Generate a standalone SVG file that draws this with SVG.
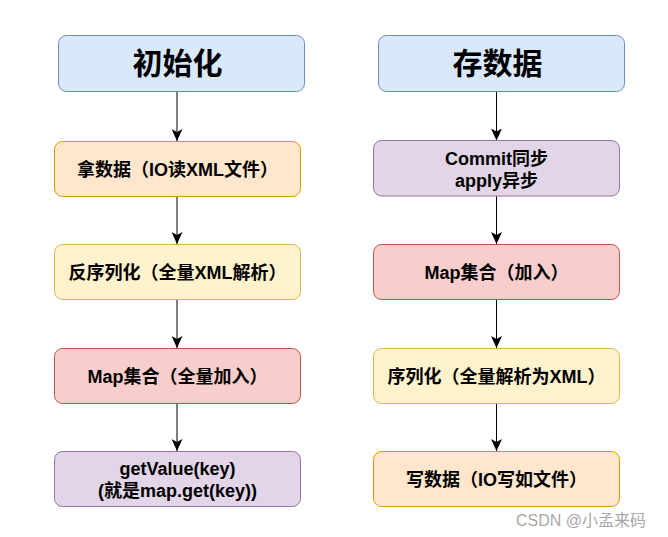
<svg xmlns="http://www.w3.org/2000/svg" width="668" height="537" viewBox="0 0 668 537">
<defs>
<style>
.t{font-family:"Liberation Sans","Noto Sans CJK SC",sans-serif;font-weight:bold;font-size:18px;text-anchor:middle;fill:#000}
.h{font-family:"Liberation Sans","Noto Sans CJK SC",sans-serif;font-weight:bold;font-size:30px;text-anchor:middle;fill:#000}
.blue{fill:#dae8fc;stroke:#6c8ebf;stroke-width:1}
.orange{fill:#ffe6cc;stroke:#d79b00;stroke-width:1}
.yellow{fill:#fff2cc;stroke:#d6b656;stroke-width:1}
.red{fill:#f8cecc;stroke:#b85450;stroke-width:1}
.purple{fill:#e1d5e7;stroke:#9673a6;stroke-width:1}
.edge{stroke:#000;stroke-width:1;fill:none;marker-end:url(#arr)}
.wm{font-family:"Liberation Sans","Noto Sans CJK SC",sans-serif;font-size:16px;fill:#a8a8a8}
</style>
<marker id="arr" viewBox="0 0 12 11" refX="12" refY="5.5" markerWidth="12" markerHeight="11" markerUnits="userSpaceOnUse" orient="auto">
<path d="M0,0 L12,5.5 L0,11 L3,5.5 z" fill="#000"/>
</marker>
</defs>
<rect width="668" height="537" fill="#fff"/>
<g id="connectors">
<line class="edge" x1="177" y1="91.5" x2="177" y2="141"/>
<line class="edge" x1="177" y1="196.5" x2="177" y2="244"/>
<line class="edge" x1="177" y1="299.5" x2="177" y2="348"/>
<line class="edge" x1="177" y1="403.5" x2="177" y2="451"/>
<line class="edge" x1="496.5" y1="91.5" x2="496.5" y2="140.5"/>
<line class="edge" x1="496.5" y1="196" x2="496.5" y2="244"/>
<line class="edge" x1="496.5" y1="299.5" x2="496.5" y2="348"/>
<line class="edge" x1="496.5" y1="403.5" x2="496.5" y2="451"/>
</g>
<g id="init">
<rect class="blue" x="58.5" y="35.5" width="246" height="56" rx="8"/>
<text class="h" x="177.5" y="74">初始化</text>
</g>
<g id="read">
<rect class="orange" x="54.5" y="141.5" width="246" height="55" rx="8"/>
<text class="t" x="177.5" y="175.5">拿数据（IO读XML文件）</text>
</g>
<g id="deserialize">
<rect class="yellow" x="54.5" y="244.5" width="246" height="55" rx="8"/>
<text class="t" x="177.5" y="278.5">反序列化（全量XML解析）</text>
</g>
<g id="mapAll">
<rect class="red" x="54.5" y="348.5" width="246" height="55" rx="8"/>
<text class="t" x="177.5" y="382.5">Map集合（全量加入）</text>
</g>
<g id="getValue">
<rect class="purple" x="54.5" y="451.5" width="246" height="55" rx="8"/>
<text class="t" x="177.5" y="475">getValue(key)</text>
<text class="t" x="177.5" y="497">(就是map.get(key))</text>
</g>
<g id="save">
<rect class="blue" x="378.5" y="35.5" width="246" height="56" rx="8"/>
<text class="h" x="497.5" y="74">存数据</text>
</g>
<g id="commit">
<rect class="purple" x="373.5" y="140.5" width="246" height="55.5" rx="8"/>
<text class="t" x="496.5" y="165">Commit同步</text>
<text class="t" x="496.5" y="187">apply异步</text>
</g>
<g id="mapAdd">
<rect class="red" x="373.5" y="244.5" width="246" height="55" rx="8"/>
<text class="t" x="496.5" y="278.5">Map集合（加入）</text>
</g>
<g id="serialize">
<rect class="yellow" x="373.5" y="348.5" width="246" height="55" rx="8"/>
<text class="t" x="496.5" y="382.5">序列化（全量解析为XML）</text>
</g>
<g id="write">
<rect class="orange" x="373.5" y="451.5" width="246" height="55" rx="8"/>
<text class="t" x="496.5" y="485.5">写数据（IO写如文件）</text>
</g>
<text class="wm" x="516" y="526">CSDN @小孟来码</text>
</svg>
